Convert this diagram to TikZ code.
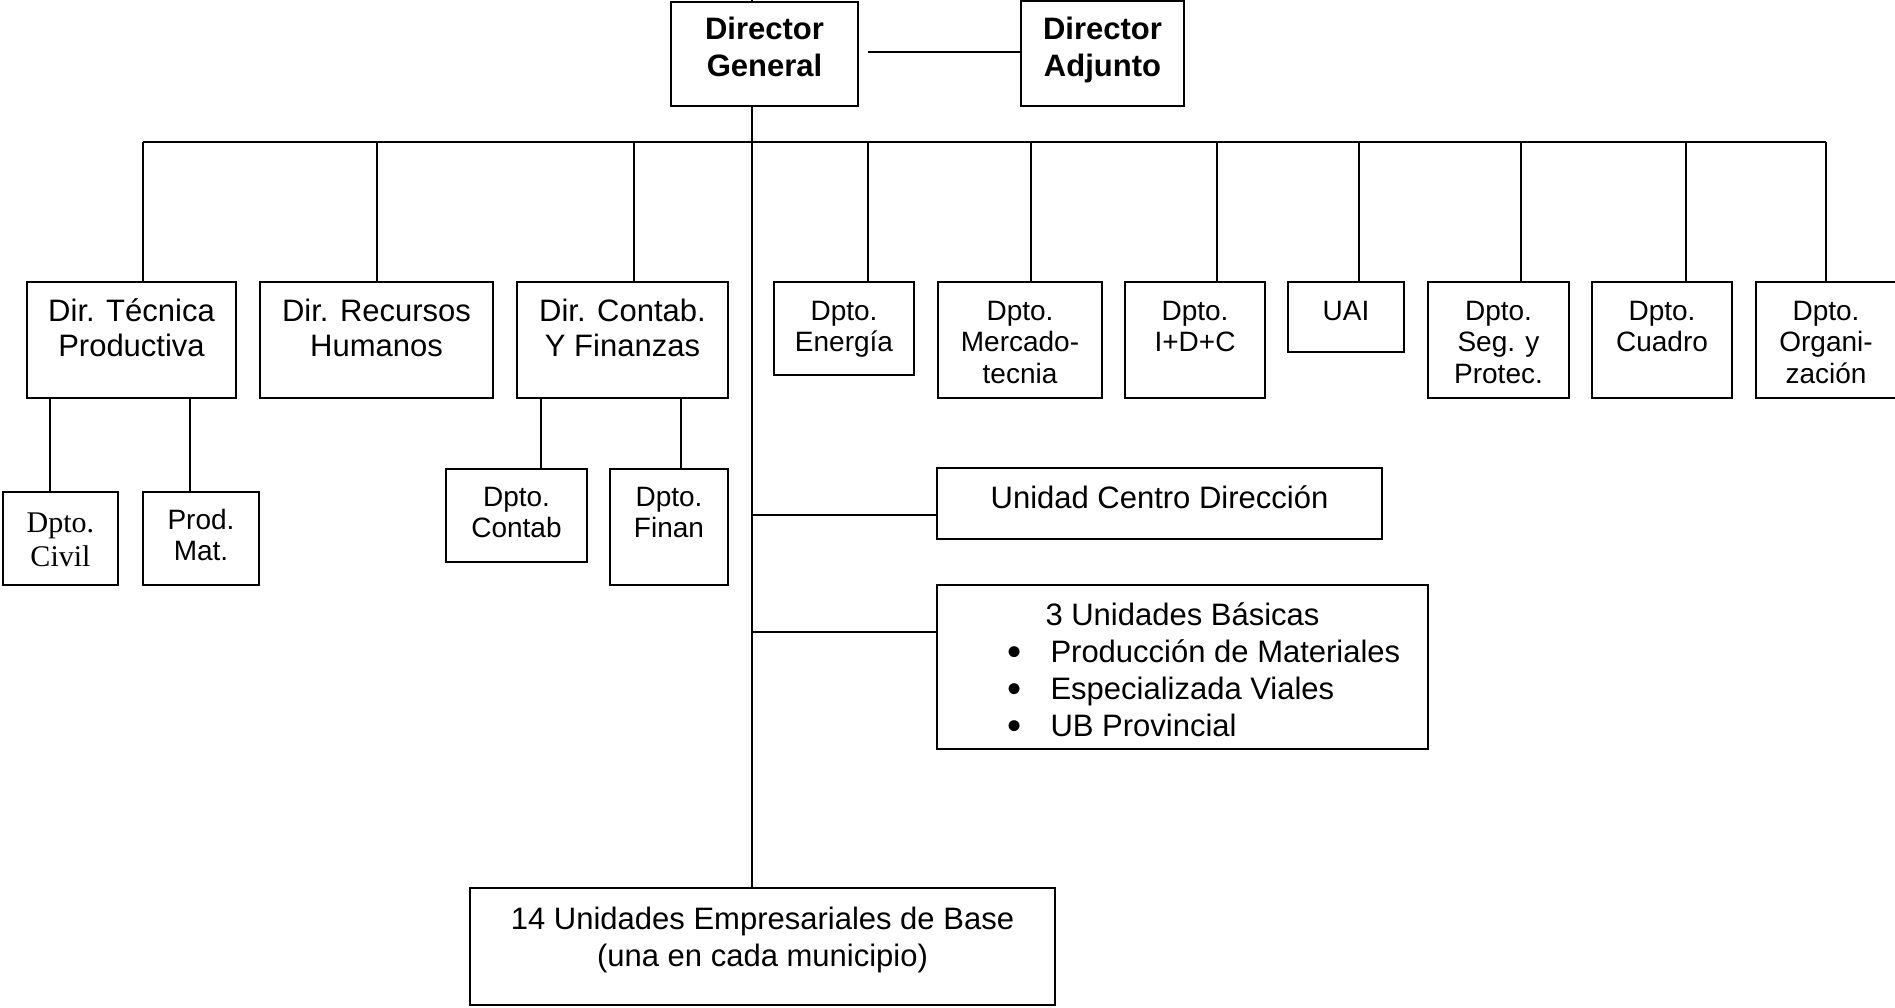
\documentclass[tikz,border=0pt]{standalone}
\usepackage{fontspec}
\usepackage{graphicx}
\setmainfont{Liberation Sans}
\newfontfamily\serifLS{Liberation Serif}
\begin{document}
\begin{tikzpicture}[x=1pt,y=-1pt,
  box/.style={draw, line width=2pt, anchor=north west, inner sep=0pt, outer sep=0pt},
  tx/.style={anchor=north, inner sep=0pt, outer sep=0pt, align=center},
  ln/.style={line width=1.6pt},
  fB/.style={font=\fontsize{31}{36.5}\selectfont\bfseries},
  fA/.style={font=\fontsize{31}{35}\selectfont},
  fS/.style={font=\fontsize{28}{31.5}\selectfont},
  fT/.style={font=\fontsize{30}{34}\selectfont\serifLS}]
\useasboundingbox (0,0) rectangle (1895,1008);
\newcommand\sr{\rule{0pt}{0.8em}}
\newcommand\bul{\makebox[43pt][l]{\raisebox{-0.09em}{\scalebox{1.3}{•}}}}
% --- boxes
\node[box, minimum width=187pt, minimum height=104pt] (dg) at (671,2) {};
\node[box, minimum width=163pt, minimum height=105pt] (da) at (1021,1) {};
\node[box, minimum width=209pt, minimum height=116pt] (tp) at (27,282) {};
\node[box, minimum width=233pt, minimum height=116pt] (rh) at (260,282) {};
\node[box, minimum width=211pt, minimum height=116pt] (cf) at (517,282) {};
\node[box, minimum width=140pt, minimum height=93pt] (en) at (774,282) {};
\node[box, minimum width=164pt, minimum height=116pt] (mk) at (938,282) {};
\node[box, minimum width=140pt, minimum height=116pt] (idc) at (1125,282) {};
\node[box, minimum width=116pt, minimum height=70pt] (uai) at (1288,282) {};
\node[box, minimum width=141pt, minimum height=116pt] (seg) at (1428,282) {};
\node[box, minimum width=140pt, minimum height=116pt] (cua) at (1592,282) {};
\node[box, minimum width=142pt, minimum height=116pt] (org) at (1756,282) {};
\node[box, minimum width=115pt, minimum height=93pt] (civ) at (3,492) {};
\node[box, minimum width=116pt, minimum height=93pt] (pm) at (143,492) {};
\node[box, minimum width=141pt, minimum height=93pt] (ct) at (446,469) {};
\node[box, minimum width=118pt, minimum height=116pt] (fi) at (610,469) {};
\node[box, minimum width=445pt, minimum height=71pt] (ucd) at (937,468) {};
\node[box, minimum width=491pt, minimum height=164pt] (ub) at (937,585) {};
\node[box, minimum width=585pt, minimum height=117pt] (ue) at (470,888) {};
% --- texts
\node[tx, fB] (dgT) at (764.5,15.2) {\sr Director\\General};
\node[tx, fB] (daT) at (1102.5,15.2) {\sr Director\\Adjunto};
\node[tx, fA] (tpT) at (131.5,296.2) {\sr Dir. Técnica\\Productiva};
\node[tx, fA] (rhT) at (376.5,296.2) {\sr Dir. Recursos\\Humanos};
\node[tx, fA] (cfT) at (622.5,296.2) {\sr Dir. Contab.\\Y Finanzas};
\node[tx, fS] (enT) at (844,297.6) {\sr Dpto.\\Energía};
\node[tx, fS] (mkT) at (1020,297.6) {\sr Dpto.\\Mercado-\\tecnia};
\node[tx, fS] (idcT) at (1195,297.6) {\sr Dpto.\\I+D+C};
\node[tx, fS] (uaiT) at (1346,297.6) {\sr UAI};
\node[tx, fS] (segT) at (1498.5,297.6) {\sr Dpto.\\Seg. y\\Protec.};
\node[tx, fS] (cuaT) at (1662,297.6) {\sr Dpto.\\Cuadro};
\node[tx, fS] (orgT) at (1826,297.6) {\sr Dpto.\\Organi-\\zación};
\node[tx, fT] (civT) at (60.5,508) {\sr Dpto.\\Civil};
\node[tx, fS] (pmT) at (201,506.6) {\sr Prod.\\Mat.};
\node[tx, fS] (ctT) at (516.5,483.6) {\sr Dpto.\\Contab};
\node[tx, fS] (fiT) at (669,483.6) {\sr Dpto.\\Finan};
\node[tx, fA] (ucdT) at (1159.5,483.2) {\sr Unidad Centro Dirección};
\node[tx, anchor=north west, align=left, font=\fontsize{31}{37.3}\selectfont] (ubT) at (1007.5,600.2)
  {\sr\hspace*{38pt}3 Unidades Básicas\\
   \bul Producción de Materiales\\
   \bul Especializada Viales\\
   \bul UB Provincial};
\node[tx, font=\fontsize{31}{37}\selectfont] (ueT) at (762.5,904.2) {\sr 14 Unidades Empresariales de Base\\(una en cada municipio)};
% --- connectors
\coordinate (stub) at (752,0);
\coordinate (tk) at (752,142);
\coordinate (bL) at (143,142);
\coordinate (bR) at (1826,142);
\coordinate (dgda) at (868,52);
\coordinate (j1) at (752,515);
\coordinate (j2) at (752,632);
\coordinate (x50) at (50,0);
\coordinate (x190) at (190,0);
\coordinate (x541) at (541,0);
\coordinate (x681) at (681,0);
\draw[ln] (stub) -- (stub |- dg.north);
\draw[ln] (tk |- dg.south) -- (tk |- ue.north);
\draw[ln] (dgda) -- (dgda -| da.west);
\draw[ln] (bL) -- (bR);
\foreach \n/\x in {tp/143, rh/377, cf/634, en/868, mk/1031, idc/1217, uai/1359, seg/1521, cua/1686, org/1826}{
  \coordinate (b\n) at (\x,142);
  \draw[ln] (b\n) -- (b\n |- \n.north);
}
\draw[ln] (x50 |- tp.south) -- (x50 |- civ.north);
\draw[ln] (x190 |- tp.south) -- (x190 |- pm.north);
\draw[ln] (x541 |- cf.south) -- (x541 |- ct.north);
\draw[ln] (x681 |- cf.south) -- (x681 |- fi.north);
\draw[ln] (j1) -- (j1 -| ucd.west);
\draw[ln] (j2) -- (j2 -| ub.west);
\end{tikzpicture}
\end{document}
